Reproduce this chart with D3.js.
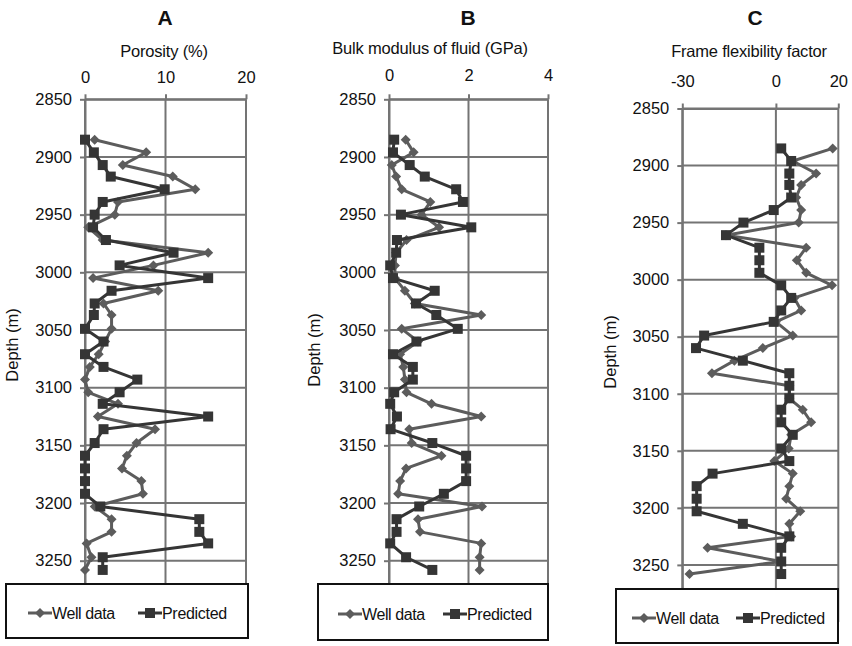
<!DOCTYPE html>
<html>
<head>
<meta charset="utf-8">
<script src="https://cdn.jsdelivr.net/npm/d3@7/dist/d3.min.js"></script>
<style>
  html, body { margin: 0; padding: 0; background: #fff; }
  svg { display: block; font-family: "Liberation Sans", Arial, sans-serif; }
</style>
</head>
<body>
<svg id="chart" width="852" height="646"></svg>
<script>
// ---- Data ----
const depth = [2885,2896,2907,2917,2928,2939,2950,2961,2972,2983,2994,3005,3016,3027,3037,3049,3060,3071,3082,3093,3104,3114,3125,3136,3148,3159,3170,3181,3192,3203,3214,3225,3235,3247,3258];
const depthTicks = [2850,2900,2950,3000,3050,3100,3150,3200,3250];

const porosityWell = [1.2,7.6,4.7,10.9,13.7,4.1,3.7,0.4,2.2,15.3,8.5,1.0,9.1,2.3,3.3,3.3,2.5,1.7,0.6,0,0.4,4.1,1.6,8.7,6.4,5.2,4.6,7.0,7.2,1.2,3.3,3.3,0.2,0.8,0];
const porosityPred = [0,1.1,2.2,3.2,9.9,2.2,1.2,1.0,2.6,11,4.3,15.3,3.3,1.2,1.1,0,2.3,0,2.3,6.5,4.3,2.2,15.3,2.3,1.2,0,0,0,0,1.9,14.2,14.2,15.3,2.2,2.2];
const porosityTicks = [0,10,20];

const bulkWell = [0.42,0.62,0.07,0.18,0.32,1.04,0.82,1.26,0.44,0.18,0.15,0.15,0.4,0.65,2.32,0.32,0.73,0.28,0.36,0.4,0.44,1.07,2.32,0.51,0.57,1.32,0.43,0.28,0.23,2.34,0.73,0.78,2.32,2.28,2.28];
const bulkPred = [0.13,0.1,0.52,0.9,1.69,1.86,0.3,2.07,0.2,0.18,0.03,0.1,1.15,0.68,1.19,1.73,0.69,0.1,0.6,0.6,0.13,0.03,0.2,0.04,1.09,1.94,1.94,1.94,1.38,0.76,0.19,0.19,0.03,0.43,1.09];
const bulkTicks = [0,2,4];

const frameWell = [18.2,5.4,12.9,8.1,6.5,8.1,7.3,-16,9.7,6.7,9.7,18,5.9,8.1,0,5.4,-4.2,-13.3,-20.5,4.3,4.3,8.6,11.3,4.9,4.1,-0.5,5.4,4.3,3.3,7.8,4.3,4.9,-21.9,1.7,-27.7];
const framePred = [1.7,4.9,4.3,4.3,4.9,-0.7,-10.4,-16,-5.3,-5.3,-5.3,1.7,4.9,1.7,-0.7,-23,-25.6,-10.6,4.3,4.3,4.3,1.7,1.7,5.4,1.7,4.3,-20.3,-25.4,-25.4,-25.4,-10.6,4.3,1.7,1.7,1.7];
const frameTicks = [-30,0,20];

const panelTitles = ["A","B","C"];
const axisTitles = ["Porosity (%)","Bulk modulus of fluid (GPa)","Frame flexibility factor"];
const yAxisTitle = "Depth (m)";
const seriesNames = ["Well data","Predicted"];

// ---- Layout / style ----
const svg = d3.select("#chart");
const gridColor = "#747474";
const wellColor = "#5c5c5c";
const predColor = "#353535";
const lw = 3;

const panels = [
  { well: porosityWell, pred: porosityPred, ticks: porosityTicks, xDomain: [0,20], xRange: [85,246],
    yRange: [99.3, 99.3 + 450*1.1535], title: panelTitles[0], titleX: 165, axisTitle: axisTitles[0], axisTitleX: 164, axisTitleY: 57,
    tickY: 83, depthX: 18, depthY: 345,
    legend: { x: 6, y: 584, w: 242, h: 54, wellX: 28, predX: 138, ty: 613 } },
  { well: bulkWell, pred: bulkPred, ticks: bulkTicks, xDomain: [0,4], xRange: [389,548],
    yRange: [99.3, 99.3 + 450*1.1535], title: panelTitles[1], titleX: 468, axisTitle: axisTitles[1], axisTitleX: 430, axisTitleY: 54,
    tickY: 81, depthX: 320, depthY: 350,
    legend: { x: 318, y: 584, w: 230, h: 56, wellX: 338, predX: 443, ty: 614 } },
  { well: frameWell, pred: framePred, ticks: frameTicks, xDomain: [-30,20], xRange: [682.3,838.3],
    yRange: [108.5, 108.5 + 450*1.141], title: panelTitles[2], titleX: 755, axisTitle: axisTitles[2], axisTitleX: 749, axisTitleY: 57,
    tickY: 87, depthX: 616, depthY: 352,
    legend: { x: 616, y: 589, w: 222, h: 54, wellX: 632, predX: 736, ty: 618 } }
];

function diamondPath(cx, cy, r) {
  return `M${cx},${cy-r}L${cx+r},${cy}L${cx},${cy+r}L${cx-r},${cy}Z`;
}

panels.forEach(p => {
  const g = svg.append("g");
  const x = d3.scaleLinear().domain(p.xDomain).range(p.xRange);
  const y = d3.scaleLinear().domain([2850, 3300]).range(p.yRange);

  // grid lines
  g.append("g").selectAll("line.h").data(depthTicks).join("line")
    .attr("x1", p.xRange[0]).attr("x2", p.xRange[1])
    .attr("y1", d => y(d)).attr("y2", d => y(d))
    .attr("stroke", gridColor).attr("stroke-width", 2);
  g.append("g").selectAll("line.v").data(p.ticks).join("line")
    .attr("x1", d => x(d)).attr("x2", d => x(d))
    .attr("y1", p.yRange[0]).attr("y2", p.yRange[1])
    .attr("stroke", gridColor).attr("stroke-width", 2);

  // axes
  const xAxis = g.append("g").attr("transform", `translate(0,${p.yRange[0]})`)
    .call(d3.axisTop(x).tickValues(p.ticks).tickSize(5).tickSizeOuter(0).tickPadding(4).tickFormat(d => String(d)));
  xAxis.selectAll("path,line").attr("stroke", gridColor).attr("stroke-width", 2);
  xAxis.selectAll("text").attr("font-size", 16.5).attr("fill", "#111")
    .attr("font-family", "Liberation Sans, Arial, sans-serif")
    .attr("y", p.tickY - p.yRange[0]).attr("dy", 0);

  const yAxis = g.append("g").attr("transform", `translate(${p.xRange[0]},0)`)
    .call(d3.axisLeft(y).tickValues(depthTicks).tickSize(5).tickSizeOuter(0).tickPadding(8).tickFormat(d => String(d)));
  yAxis.selectAll("path,line").attr("stroke", gridColor).attr("stroke-width", 2);
  yAxis.selectAll("text").attr("font-size", 16.5).attr("fill", "#111")
    .attr("font-family", "Liberation Sans, Arial, sans-serif");

  // lines
  const line = vals => d3.line().x((d, i) => x(vals[i])).y(d => y(d))(depth);
  g.append("path").attr("d", line(p.well)).attr("fill", "none")
    .attr("stroke", wellColor).attr("stroke-width", lw).attr("stroke-linejoin", "round");
  g.append("g").selectAll("path").data(depth).join("path")
    .attr("d", (d, i) => diamondPath(x(p.well[i]), y(d), 5))
    .attr("fill", wellColor);

  g.append("path").attr("d", line(p.pred)).attr("fill", "none")
    .attr("stroke", predColor).attr("stroke-width", lw).attr("stroke-linejoin", "round");
  g.append("g").selectAll("rect").data(depth).join("rect")
    .attr("x", (d, i) => x(p.pred[i]) - 5).attr("y", d => y(d) - 5)
    .attr("width", 10).attr("height", 10).attr("fill", predColor);

  // titles
  g.append("text").attr("x", p.titleX).attr("y", 25).attr("text-anchor", "middle")
    .attr("font-size", 21).attr("font-weight", "bold").attr("fill", "#111").text(p.title);
  g.append("text").attr("x", p.axisTitleX).attr("y", p.axisTitleY).attr("text-anchor", "middle")
    .attr("font-size", 16.5).attr("fill", "#111").attr("letter-spacing", -0.2).text(p.axisTitle);
  g.append("text").attr("transform", `translate(${p.depthX},${p.depthY}) rotate(-90)`)
    .attr("text-anchor", "middle").attr("font-size", 16.5).attr("fill", "#111").text(yAxisTitle);

  // legend
  const L = p.legend;
  const lg = g.append("g");
  lg.append("rect").attr("x", L.x).attr("y", L.y).attr("width", L.w).attr("height", L.h)
    .attr("fill", "#fff").attr("stroke", "#111").attr("stroke-width", 2);
  lg.append("line").attr("x1", L.wellX).attr("x2", L.wellX + 24).attr("y1", L.ty).attr("y2", L.ty)
    .attr("stroke", wellColor).attr("stroke-width", lw);
  lg.append("path").attr("d", diamondPath(L.wellX + 12, L.ty, 5)).attr("fill", wellColor);
  lg.append("text").attr("x", L.wellX + 24).attr("y", L.ty).attr("dy", "0.36em")
    .attr("font-size", 16).attr("letter-spacing", -0.4).attr("fill", "#111").text(seriesNames[0]);
  lg.append("line").attr("x1", L.predX).attr("x2", L.predX + 24).attr("y1", L.ty).attr("y2", L.ty)
    .attr("stroke", predColor).attr("stroke-width", lw);
  lg.append("rect").attr("x", L.predX + 12 - 5).attr("y", L.ty - 5).attr("width", 10).attr("height", 10).attr("fill", predColor);
  lg.append("text").attr("x", L.predX + 24).attr("y", L.ty).attr("dy", "0.36em")
    .attr("font-size", 16).attr("letter-spacing", -0.3).attr("fill", "#111").text(seriesNames[1]);
});
</script>
</body>
</html>
